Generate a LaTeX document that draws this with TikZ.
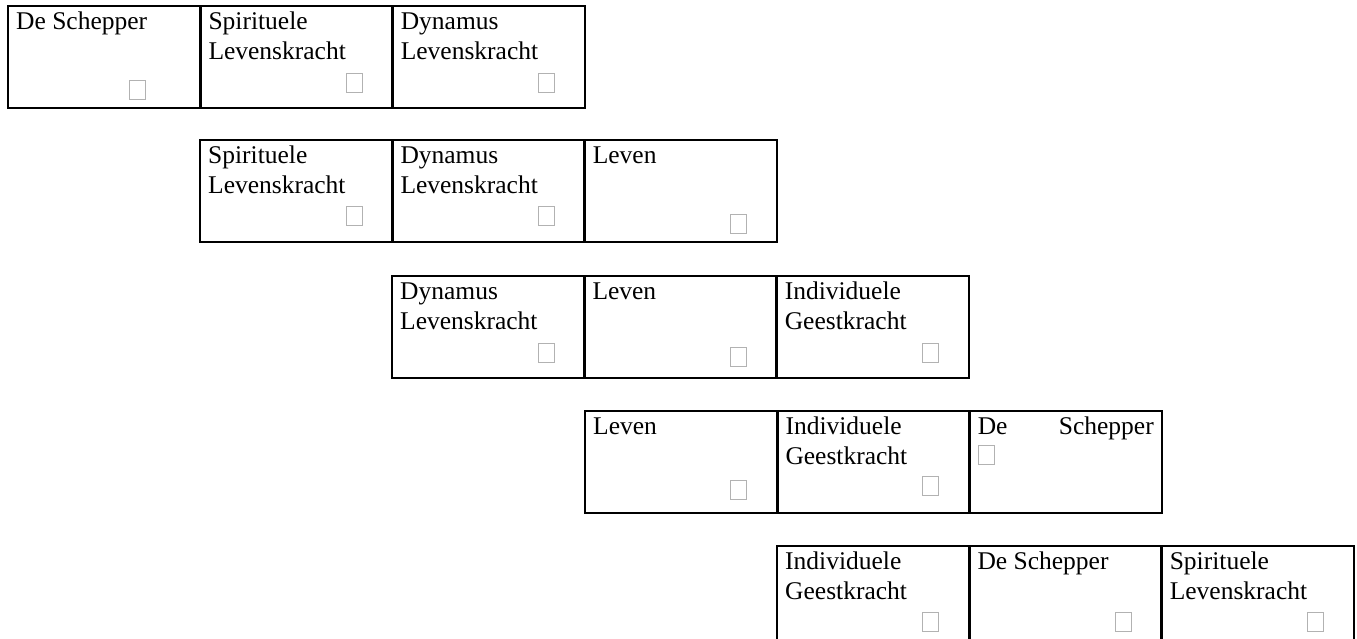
\documentclass[tikz,border=0pt]{standalone}
\usepackage{fontspec}
\setmainfont{Liberation Serif}
\usetikzlibrary{positioning}

\tikzset{
  cell/.style={draw, line width=2.6pt, minimum width=192.3pt, minimum height=102pt, outer sep=0pt, inner sep=0pt},
  celltext/.style={anchor=north west, inner sep=0pt, align=left, font=\fontsize{25.5}{30}\selectfont},
  hokje/.style={draw=gray!60, fill=white, line width=0.9pt, minimum width=16pt, minimum height=19pt, inner sep=0pt, anchor=north west}
}

\begin{document}
\begin{tikzpicture}[x=1pt, y=1pt]
  \useasboundingbox (0,0) rectangle (1357,-638);
  \clip (0,0) rectangle (1357,-638);

  % row 1
  \node[cell, anchor=north west] (r1c1) at (8,-6) {};
  \node[cell, right=0pt of r1c1] (r1c2) {};
  \node[cell, right=0pt of r1c2] (r1c3) {};
  \node[celltext] (r1c1t) at ([xshift=8pt, yshift=-2pt]r1c1.north west) {\strut De Schepper};
  \node[celltext] (r1c2t) at ([xshift=8pt, yshift=-2pt]r1c2.north west) {\strut Spirituele\\Levenskracht};
  \node[celltext] (r1c3t) at ([xshift=8pt, yshift=-2pt]r1c3.north west) {\strut Dynamus\\Levenskracht};
  \node[hokje] (r1c1h) at (129,-80) {};
  \node[hokje] (r1c2h) at (346,-73) {};
  \node[hokje] (r1c3h) at (538,-73) {};

  % row 2
  \node[cell, anchor=north west] (r2c1) at (200,-140) {};
  \node[cell, right=0pt of r2c1] (r2c2) {};
  \node[cell, right=0pt of r2c2] (r2c3) {};
  \node[celltext] (r2c1t) at ([xshift=8pt, yshift=-2pt]r2c1.north west) {\strut Spirituele\\Levenskracht};
  \node[celltext] (r2c2t) at ([xshift=8pt, yshift=-2pt]r2c2.north west) {\strut Dynamus\\Levenskracht};
  \node[celltext] (r2c3t) at ([xshift=8pt, yshift=-2pt]r2c3.north west) {\strut Leven};
  \node[hokje] (r2c1h) at (346,-206) {};
  \node[hokje] (r2c2h) at (538,-206) {};
  \node[hokje] (r2c3h) at (730,-214) {};

  % row 3
  \node[cell, anchor=north west] (r3c1) at (392,-276) {};
  \node[cell, right=0pt of r3c1] (r3c2) {};
  \node[cell, right=0pt of r3c2] (r3c3) {};
  \node[celltext] (r3c1t) at ([xshift=8pt, yshift=-2pt]r3c1.north west) {\strut Dynamus\\Levenskracht};
  \node[celltext] (r3c2t) at ([xshift=8pt, yshift=-2pt]r3c2.north west) {\strut Leven};
  \node[celltext] (r3c3t) at ([xshift=8pt, yshift=-2pt]r3c3.north west) {\strut Individuele\\Geestkracht};
  \node[hokje] (r3c1h) at (538,-343) {};
  \node[hokje] (r3c2h) at (730,-347) {};
  \node[hokje] (r3c3h) at (922,-343) {};

  % row 4
  \node[cell, anchor=north west] (r4c1) at (585,-411) {};
  \node[cell, right=0pt of r4c1] (r4c2) {};
  \node[cell, right=0pt of r4c2] (r4c3) {};
  \node[celltext] (r4c1t) at ([xshift=8pt, yshift=-2pt]r4c1.north west) {\strut Leven};
  \node[celltext] (r4c2t) at ([xshift=8pt, yshift=-2pt]r4c2.north west) {\strut Individuele\\Geestkracht};
  \node[celltext, text width=176pt] (r4c3t) at ([xshift=8pt, yshift=-2pt]r4c3.north west) {\strut De\hfill Schepper};
  \node[hokje] (r4c1h) at (730,-480) {};
  \node[hokje] (r4c2h) at (922,-476) {};
  \node[hokje] (r4c3h) at (978,-445) {};

  % row 5
  \node[cell, anchor=north west] (r5c1) at (777,-546) {};
  \node[cell, right=0pt of r5c1] (r5c2) {};
  \node[cell, right=0pt of r5c2] (r5c3) {};
  \node[celltext] (r5c1t) at ([xshift=8pt, yshift=-2pt]r5c1.north west) {\strut Individuele\\Geestkracht};
  \node[celltext] (r5c2t) at ([xshift=8pt, yshift=-2pt]r5c2.north west) {\strut De Schepper};
  \node[celltext] (r5c3t) at ([xshift=8pt, yshift=-2pt]r5c3.north west) {\strut Spirituele\\Levenskracht};
  \node[hokje] (r5c1h) at (922,-612) {};
  \node[hokje] (r5c2h) at (1115,-612) {};
  \node[hokje] (r5c3h) at (1307,-612) {};
\end{tikzpicture}
\end{document}
